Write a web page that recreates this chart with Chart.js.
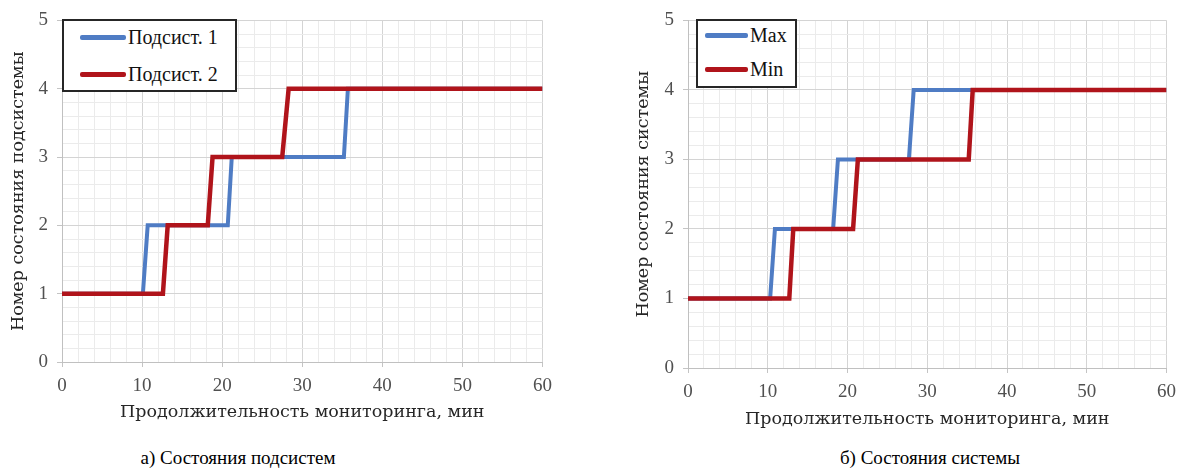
<!DOCTYPE html>
<html>
<head>
<meta charset="utf-8">
<script src="https://cdn.jsdelivr.net/npm/chart.js@4"></script>
<style>
  html, body { margin: 0; padding: 0; background: #fff; }
  body { width: 1184px; height: 475px; position: relative; overflow: hidden; font-family: "Liberation Serif", "Times New Roman", serif; }
  .wrap { position: absolute; top: 0; }
  .legend { position: absolute; box-sizing: border-box; border: 2px solid #262626; background: #fff; }
  .legend .item { position: absolute; left: 0; right: 0; height: 0; }
  .legend .swatch { position: absolute; height: 4px; margin-top: -2px; border-radius: 2px; }
  .legend .txt { position: absolute; font-size: 20px; line-height: 20px; margin-top: -10px; color: #111; white-space: nowrap; }
  .caption { position: absolute; font-size: 19px; line-height: 22px; color: #000; white-space: nowrap; transform: translateX(-50%); }
</style>
</head>
<body>
<div class="wrap" style="left:0px"><canvas id="chartA" width="560" height="440"></canvas></div>
<div class="wrap" style="left:620px"><canvas id="chartB" width="564" height="440"></canvas></div>
<div class="caption" style="left:238px; top:447px">а) Состояния подсистем</div>
<div class="caption" style="left:930px; top:447px">б) Состояния системы</div>
<script>
// ---------- data ----------
const seriesNamesA = ['Подсист. 1', 'Подсист. 2'];
const sub1X = [0, 10.1, 10.7, 20.7, 21.2, 35.2, 35.7, 60];
const sub1Y = [1, 1, 2, 2, 3, 3, 4, 4];
const sub2X = [0, 12.6, 13.2, 18.2, 18.8, 27.5, 28.3, 60];
const sub2Y = [1, 1, 2, 2, 3, 3, 4, 4];

const seriesNamesB = ['Max', 'Min'];
const maxX = [0, 10.3, 10.9, 18.2, 18.8, 27.7, 28.3, 60];
const maxY = [1, 1, 2, 2, 3, 3, 4, 4];
const minX = [0, 12.7, 13.2, 20.7, 21.3, 35.2, 35.7, 60];
const minY = [1, 1, 2, 2, 3, 3, 4, 4];

const xRange = [0, 60];
const xMajorStep = 10;
const xMinorStep = 2;
const yRange = [0, 5];
const yMajorStep = 1;
const yMinorStep = 0.2;

const xTitle = 'Продолжительность мониторинга, мин';
const yTitleA = 'Номер состояния подсистемы';
const yTitleB = 'Номер состояния системы';

// ---------- styles ----------
const BLUE = '#4f7cc4';
const RED = '#b0141b';
const TICK_FONT = { family: '"Liberation Serif", "Times New Roman", serif', size: 19 };
const TITLE_FONT = { family: '"DejaVu Serif", serif', size: 17.5 };

function pts(xs, ys) { return xs.map((x, i) => ({ x: x, y: ys[i] })); }
function isMajor(v, step) { const q = v / step; return Math.abs(q - Math.round(q)) < 1e-6; }

function makeChart(id, names, xsA, ysA, xsB, ysB, yTitle, geo) {
  const ctx = document.getElementById(id);
  const chart = new Chart(ctx, {
    type: 'line',
    data: {
      datasets: [
        { label: names[0], data: pts(xsA, ysA), borderColor: BLUE, backgroundColor: BLUE, borderWidth: 4, pointRadius: 0, tension: 0, order: 2 },
        { label: names[1], data: pts(xsB, ysB), borderColor: RED, backgroundColor: RED, borderWidth: 4.5, pointRadius: 0, tension: 0, order: 1 }
      ]
    },
    options: {
      responsive: false,
      animation: false,
      events: [],
      layout: { padding: { left: 0, right: geo.padRight, top: geo.padTop, bottom: 0 } },
      plugins: { legend: { display: false }, tooltip: { enabled: false } },
      scales: {
        x: {
          type: 'linear', position: 'bottom', min: xRange[0], max: xRange[1],
          ticks: {
            stepSize: xMinorStep, autoSkip: false, maxRotation: 0, minRotation: 0,
            padding: 8, font: TICK_FONT, color: '#505050',
            callback: v => isMajor(v, xMajorStep) ? String(Math.round(v)) : ''
          },
          grid: {
            color: c => isMajor(c.tick.value, xMajorStep) ? '#d4d4d4' : '#ebebeb',
            tickColor: c => isMajor(c.tick.value, xMajorStep) ? '#c4c4c4' : 'rgba(0,0,0,0)',
            tickLength: 5, lineWidth: 1
          },
          border: { color: '#c0c0c0', width: 1 },
          title: { display: true, text: xTitle, font: TITLE_FONT, color: '#262626', padding: { top: 0, bottom: geo.xTitlePad } },
          afterFit: s => { s.height = geo.xAxisH; }
        },
        y: {
          type: 'linear', position: 'left', min: yRange[0], max: yRange[1],
          ticks: {
            stepSize: yMinorStep, autoSkip: false,
            padding: 9, font: TICK_FONT, color: '#505050',
            callback: v => isMajor(v, yMajorStep) ? String(Math.round(v)) : ''
          },
          grid: {
            color: c => isMajor(c.tick.value, yMajorStep) ? '#d4d4d4' : '#ebebeb',
            tickColor: c => isMajor(c.tick.value, yMajorStep) ? '#c4c4c4' : 'rgba(0,0,0,0)',
            tickLength: 5, lineWidth: 1
          },
          border: { color: '#c0c0c0', width: 1 },
          title: { display: true, text: yTitle, font: TITLE_FONT, color: '#262626', padding: { top: geo.yTitlePad, bottom: 0 } },
          afterFit: s => { s.width = geo.yAxisW; }
        }
      }
    }
  });
  buildLegend(chart, geo.legend);
  return chart;
}

function buildLegend(chart, L) {
  const box = document.createElement('div');
  box.className = 'legend';
  box.style.left = L.left + 'px';
  box.style.top = L.top + 'px';
  box.style.width = L.width + 'px';
  box.style.height = L.height + 'px';
  chart.data.datasets.forEach((ds, i) => {
    const item = document.createElement('div');
    item.className = 'item';
    item.style.top = (L.firstRow + i * L.rowGap) + 'px';
    const sw = document.createElement('div');
    sw.className = 'swatch';
    sw.style.left = L.lineX0 + 'px';
    sw.style.width = (L.lineX1 - L.lineX0) + 'px';
    sw.style.background = ds.borderColor;
    sw.style.height = (ds.borderWidth + 0.5) + 'px';
    const t = document.createElement('div');
    t.className = 'txt';
    t.style.left = L.textX + 'px';
    t.textContent = ds.label;
    item.appendChild(sw);
    item.appendChild(t);
    box.appendChild(item);
  });
  chart.canvas.parentNode.appendChild(box);
}

makeChart('chartA', seriesNamesA, sub1X, sub1Y, sub2X, sub2Y, yTitleA, {
  padRight: 17, padTop: 14, xAxisH: 78, yAxisW: 62, xTitlePad: 17, yTitlePad: 8,
  legend: { left: 62, top: 19, width: 175, height: 73, firstRow: 16, rowGap: 37, lineX0: 16, lineX1: 62, textX: 64 }
});
makeChart('chartB', seriesNamesB, maxX, maxY, minX, minY, yTitleB, {
  padRight: 17, padTop: 15, xAxisH: 72, yAxisW: 68, xTitlePad: 10, yTitlePad: 13,
  legend: { left: 76, top: 19, width: 101, height: 69, firstRow: 14, rowGap: 34, lineX0: 7, lineX1: 50, textX: 52 }
});
</script>
</body>
</html>
